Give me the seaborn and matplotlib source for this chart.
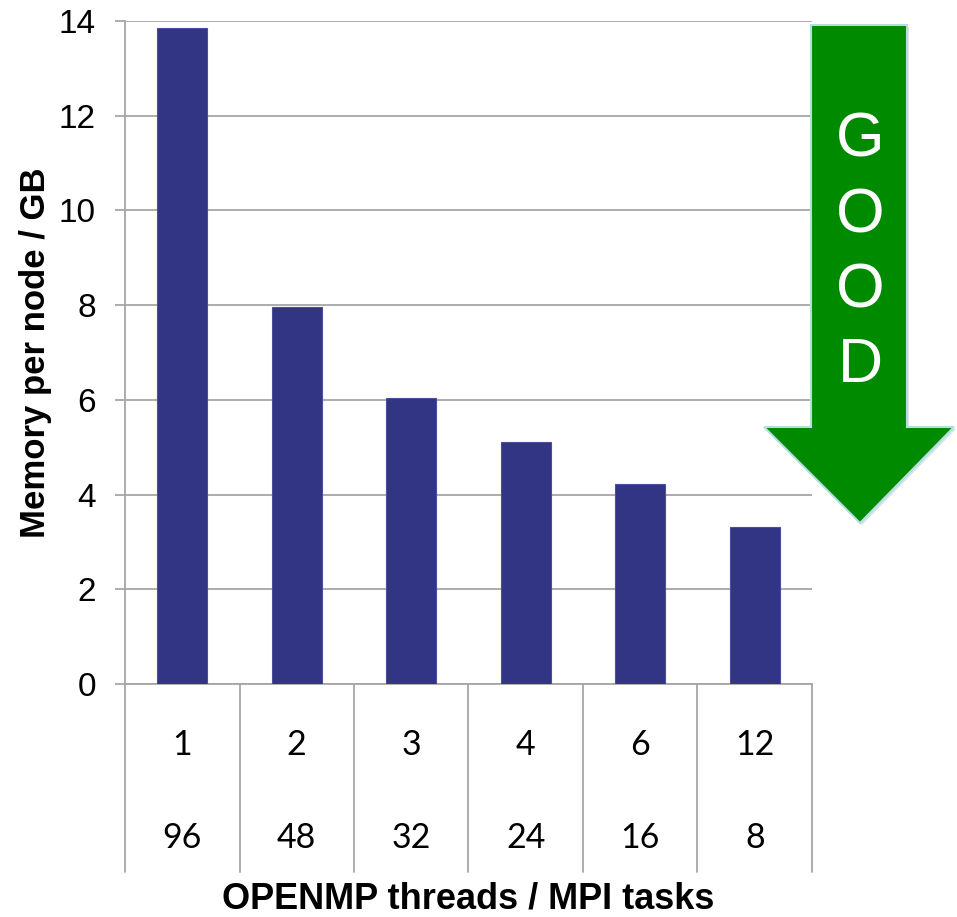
import matplotlib
matplotlib.use("Agg")
import matplotlib.pyplot as plt
import pandas as pd
import seaborn as sns
from matplotlib.patches import Polygon

# Memory footprint per node for each hybrid OpenMP/MPI decomposition
threads = ["1", "2", "3", "4", "6", "12"]
mpi_tasks = ["96", "48", "32", "24", "16", "8"]
memory_gb = [13.85, 7.97, 6.04, 5.12, 4.22, 3.32]

y_ticks = [0, 2, 4, 6, 8, 10, 12, 14]
arrow_letters = ["G", "O", "O", "D"]

sns.set_theme(style="white")
plt.rcParams["font.family"] = ["Liberation Sans", "DejaVu Sans"]
plt.rcParams.update({"text.color": "black", "axes.labelcolor": "black",
                     "xtick.color": "black", "ytick.color": "black"})

W, H = 957, 917
fig = plt.figure(figsize=(W / 100, H / 100), dpi=100)
fig.patch.set_facecolor("white")


def fx(px):
    return px / W


def fy(py):
    return 1 - py / H


ax = fig.add_axes([fx(125), fy(684), (812 - 125) / W, (684 - 21) / H])

df = pd.DataFrame({"threads": threads, "memory": memory_gb})
sns.barplot(data=df, x="threads", y="memory", order=threads, color="#323583",
            saturation=1, width=0.44, edgecolor="#4b4e98", linewidth=0.8,
            ax=ax, zorder=3)

grid_col = "#a6a6a6"
ax.set_xlim(-0.5, len(threads) - 0.5)
ax.set_ylim(0, 14)
ax.set_yticks(y_ticks)
ax.set_yticklabels([str(t) for t in y_ticks], fontsize=24, color="black")
ax.yaxis.grid(True, color=grid_col, linewidth=1.3, zorder=0)
ax.xaxis.grid(False)
ax.set_axisbelow(True)
ax.tick_params(axis="y", direction="out", length=7, width=1.3, color=grid_col,
               pad=14, left=True, labelcolor="black")
ax.set_xticks(range(len(threads)))
ax.set_xticklabels([])
ax.tick_params(axis="x", length=0)
ax.set_xlabel("")
ax.set_ylabel("")
for side in ["top", "right"]:
    ax.spines[side].set_visible(False)
for side in ["left", "bottom"]:
    ax.spines[side].set_color(grid_col)
    ax.spines[side].set_linewidth(1.3)

# Two-row category axis: thread counts above MPI task counts
sep_bottom = -(872 - 684) / (684 - 21)
for i in range(len(threads) + 1):
    ax.plot([i - 0.5, i - 0.5], [0, sep_bottom], color=grid_col, lw=1.3,
            transform=ax.get_xaxis_transform(), clip_on=False)
row1 = -(745 - 684) / (684 - 21)
row2 = -(838 - 684) / (684 - 21)
for i, (t, m) in enumerate(zip(threads, mpi_tasks)):
    ax.text(i, row1, t, transform=ax.get_xaxis_transform(), ha="center",
            va="center", fontsize=24.5, family=["Lato", "DejaVu Sans"], color="black")
    ax.text(i, row2, m, transform=ax.get_xaxis_transform(), ha="center",
            va="center", fontsize=24.5, family=["Lato", "DejaVu Sans"], color="black")

fig.text(fx(36), fy(353), "Memory per node / GB", rotation=90, ha="center",
         va="center", fontsize=25, fontweight="bold", color="black")
fig.text(fx(468), fy(899), "OPENMP threads / MPI tasks", ha="center",
         va="center", fontsize=26, fontweight="bold", color="black")

# Downward "GOOD" arrow
arrow_px = [(811, 25), (907, 25), (907, 427), (954, 427), (860, 523),
            (764, 427), (811, 427)]
shadow = Polygon([(fx(x + 2), fy(y + 2)) for x, y in arrow_px], closed=True,
                 transform=fig.transFigure, facecolor="#d6e4e6",
                 edgecolor="none", zorder=4)
fig.patches.append(shadow)
arrow = Polygon([(fx(x), fy(y)) for x, y in arrow_px], closed=True,
                transform=fig.transFigure, facecolor="#008a00",
                edgecolor="#b5dede", linewidth=1.5, zorder=5)
fig.patches.append(arrow)
for letter, ypx in zip(arrow_letters, [140, 216, 291, 365]):
    fig.text(fx(860), fy(ypx), letter, ha="center", va="center", fontsize=45,
             color="white", zorder=6)

fig.savefig("out.png", dpi=100, facecolor="white")
